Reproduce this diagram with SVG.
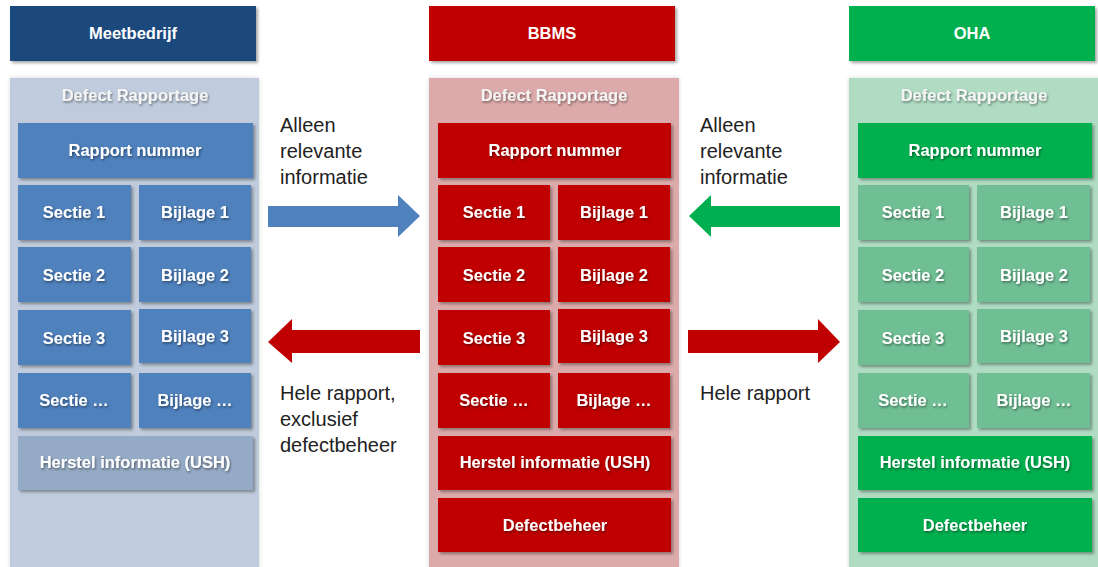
<svg xmlns="http://www.w3.org/2000/svg" width="1098" height="567" viewBox="0 0 1098 567">
<defs>
<filter id="sh" x="-10%" y="-10%" width="130%" height="140%">
<feDropShadow dx="2" dy="2" stdDeviation="1.8" flood-color="#000" flood-opacity="0.35"/>
</filter>
<filter id="tsh" x="-10%" y="-30%" width="130%" height="180%">
<feDropShadow dx="1" dy="1.5" stdDeviation="1.2" flood-color="#000" flood-opacity="0.45"/>
</filter>
<filter id="csh" x="-5%" y="-5%" width="110%" height="110%">
<feDropShadow dx="0" dy="0" stdDeviation="2" flood-color="#000" flood-opacity="0.15"/>
</filter>
</defs>
<style>
text{font-family:"Liberation Sans",Arial,sans-serif}
.hd{font-weight:bold;font-size:16.5px;fill:#fff;text-anchor:middle}
.bx{font-weight:bold;font-size:16.5px;fill:#fff;text-anchor:middle;filter:url(#tsh)}
.dr{font-weight:bold;font-size:16.5px;fill:#f4f4f4;text-anchor:middle;filter:url(#tsh)}
.lb{font-size:20px;fill:#222}
.b rect{fill:#4f81bd;filter:url(#sh)}
.r rect{fill:#c00000;filter:url(#sh)}
.g rect{fill:#00b050;filter:url(#sh)}
.gf rect{fill:#70bf94;filter:url(#sh)}
.bf rect{fill:#95aac4;filter:url(#sh)}
</style>
<rect width="1098" height="567" fill="#fff"/>

<!-- Meetbedrijf column -->
<g id="meetbedrijf">
<rect x="10" y="6" width="246" height="55" fill="#1f497d" filter="url(#sh)"/>
<text class="hd" x="133" y="39">Meetbedrijf</text>
</g>
<g id="container-meetbedrijf">
<rect x="10" y="78" width="249" height="495" fill="#c0ccdd" filter="url(#csh)"/>
<text class="dr" x="135" y="101">Defect Rapportage</text>
</g>
<g id="m-rapport" class="b"><rect x="18" y="123" width="235" height="55"/><text class="bx" x="135" y="156">Rapport nummer</text></g>
<g id="m-sectie1" class="b"><rect x="18" y="185" width="113" height="55"/><text class="bx" x="74" y="218">Sectie 1</text></g>
<g id="m-bijlage1" class="b"><rect x="139" y="185" width="112" height="55"/><text class="bx" x="195" y="218">Bijlage 1</text></g>
<g id="m-sectie2" class="b"><rect x="18" y="247" width="113" height="55"/><text class="bx" x="74" y="281">Sectie 2</text></g>
<g id="m-bijlage2" class="b"><rect x="139" y="247" width="112" height="55"/><text class="bx" x="195" y="281">Bijlage 2</text></g>
<g id="m-sectie3" class="b"><rect x="18" y="310" width="113" height="55"/><text class="bx" x="74" y="344">Sectie 3</text></g>
<g id="m-bijlage3" class="b"><rect x="139" y="309" width="112" height="54"/><text class="bx" x="195" y="342">Bijlage 3</text></g>
<g id="m-sectiex" class="b"><rect x="18" y="373" width="113" height="55"/><text class="bx" x="74" y="406">Sectie …</text></g>
<g id="m-bijlagex" class="b"><rect x="139" y="373" width="112" height="55"/><text class="bx" x="195" y="406">Bijlage …</text></g>
<g id="m-herstel" class="bf"><rect x="18" y="436" width="235" height="54"/><text class="bx" x="135" y="468">Herstel informatie (USH)</text></g>

<!-- BBMS column -->
<g id="bbms">
<rect x="429" y="6" width="246" height="55" fill="#c00000" filter="url(#sh)"/>
<text class="hd" x="552" y="39">BBMS</text>
</g>
<g id="container-bbms">
<rect x="429" y="78" width="250" height="495" fill="#dcaaaa" filter="url(#csh)"/>
<text class="dr" x="554" y="101">Defect Rapportage</text>
</g>
<g id="b-rapport" class="r"><rect x="438" y="123" width="233" height="55"/><text class="bx" x="555" y="156">Rapport nummer</text></g>
<g id="b-sectie1" class="r"><rect x="438" y="185" width="112" height="55"/><text class="bx" x="494" y="218">Sectie 1</text></g>
<g id="b-bijlage1" class="r"><rect x="558" y="185" width="112" height="55"/><text class="bx" x="614" y="218">Bijlage 1</text></g>
<g id="b-sectie2" class="r"><rect x="438" y="247" width="112" height="55"/><text class="bx" x="494" y="281">Sectie 2</text></g>
<g id="b-bijlage2" class="r"><rect x="558" y="247" width="112" height="55"/><text class="bx" x="614" y="281">Bijlage 2</text></g>
<g id="b-sectie3" class="r"><rect x="438" y="310" width="112" height="55"/><text class="bx" x="494" y="344">Sectie 3</text></g>
<g id="b-bijlage3" class="r"><rect x="558" y="309" width="112" height="54"/><text class="bx" x="614" y="342">Bijlage 3</text></g>
<g id="b-sectiex" class="r"><rect x="438" y="373" width="112" height="55"/><text class="bx" x="494" y="406">Sectie …</text></g>
<g id="b-bijlagex" class="r"><rect x="558" y="373" width="112" height="55"/><text class="bx" x="614" y="406">Bijlage …</text></g>
<g id="b-herstel" class="r"><rect x="438" y="436" width="233" height="54"/><text class="bx" x="555" y="468">Herstel informatie (USH)</text></g>
<g id="b-defect" class="r"><rect x="438" y="498" width="233" height="54"/><text class="bx" x="555" y="531">Defectbeheer</text></g>

<!-- OHA column -->
<g id="oha">
<rect x="849" y="6" width="246" height="55" fill="#00b050" filter="url(#sh)"/>
<text class="hd" x="972" y="39">OHA</text>
</g>
<g id="container-oha">
<rect x="849" y="78" width="252" height="495" fill="#b0dcc3" filter="url(#csh)"/>
<text class="dr" x="974" y="101">Defect Rapportage</text>
</g>
<g id="o-rapport" class="g"><rect x="858" y="123" width="234" height="55"/><text class="bx" x="975" y="156">Rapport nummer</text></g>
<g id="o-sectie1" class="gf"><rect x="858" y="185" width="111" height="55"/><text class="bx" x="913" y="218">Sectie 1</text></g>
<g id="o-bijlage1" class="gf"><rect x="977" y="185" width="113" height="55"/><text class="bx" x="1034" y="218">Bijlage 1</text></g>
<g id="o-sectie2" class="gf"><rect x="858" y="247" width="111" height="55"/><text class="bx" x="913" y="281">Sectie 2</text></g>
<g id="o-bijlage2" class="gf"><rect x="977" y="247" width="113" height="55"/><text class="bx" x="1034" y="281">Bijlage 2</text></g>
<g id="o-sectie3" class="gf"><rect x="858" y="310" width="111" height="55"/><text class="bx" x="913" y="344">Sectie 3</text></g>
<g id="o-bijlage3" class="gf"><rect x="977" y="309" width="113" height="54"/><text class="bx" x="1034" y="342">Bijlage 3</text></g>
<g id="o-sectiex" class="gf"><rect x="858" y="373" width="111" height="55"/><text class="bx" x="913" y="406">Sectie …</text></g>
<g id="o-bijlagex" class="gf"><rect x="977" y="373" width="113" height="55"/><text class="bx" x="1034" y="406">Bijlage …</text></g>
<g id="o-herstel" class="g"><rect x="858" y="436" width="234" height="54"/><text class="bx" x="975" y="468">Herstel informatie (USH)</text></g>
<g id="o-defect" class="g"><rect x="858" y="498" width="234" height="54"/><text class="bx" x="975" y="531">Defectbeheer</text></g>

<!-- connectors -->
<g id="connectors">
<polygon points="268,206 398,206 398,195 420,216 398,237 398,227 268,227" fill="#4f81bd"/>
<polygon points="840,206 711,206 711,195 689,216 711,237 711,227 840,227" fill="#00b050"/>
<polygon points="420,330 292,330 292,319 268,342 292,363 292,353 420,353" fill="#c00000"/>
<polygon points="688,330 818,330 818,319 840,342 818,363 818,353 688,353" fill="#c00000"/>
</g>

<!-- labels -->
<g id="labels">
<text class="lb" x="280" y="132">Alleen</text>
<text class="lb" x="280" y="158">relevante</text>
<text class="lb" x="280" y="184">informatie</text>
<text class="lb" x="700" y="132">Alleen</text>
<text class="lb" x="700" y="158">relevante</text>
<text class="lb" x="700" y="184">informatie</text>
<text class="lb" x="280" y="400">Hele rapport,</text>
<text class="lb" x="280" y="426">exclusief</text>
<text class="lb" x="280" y="452">defectbeheer</text>
<text class="lb" x="700" y="400">Hele rapport</text>
</g>
</svg>
